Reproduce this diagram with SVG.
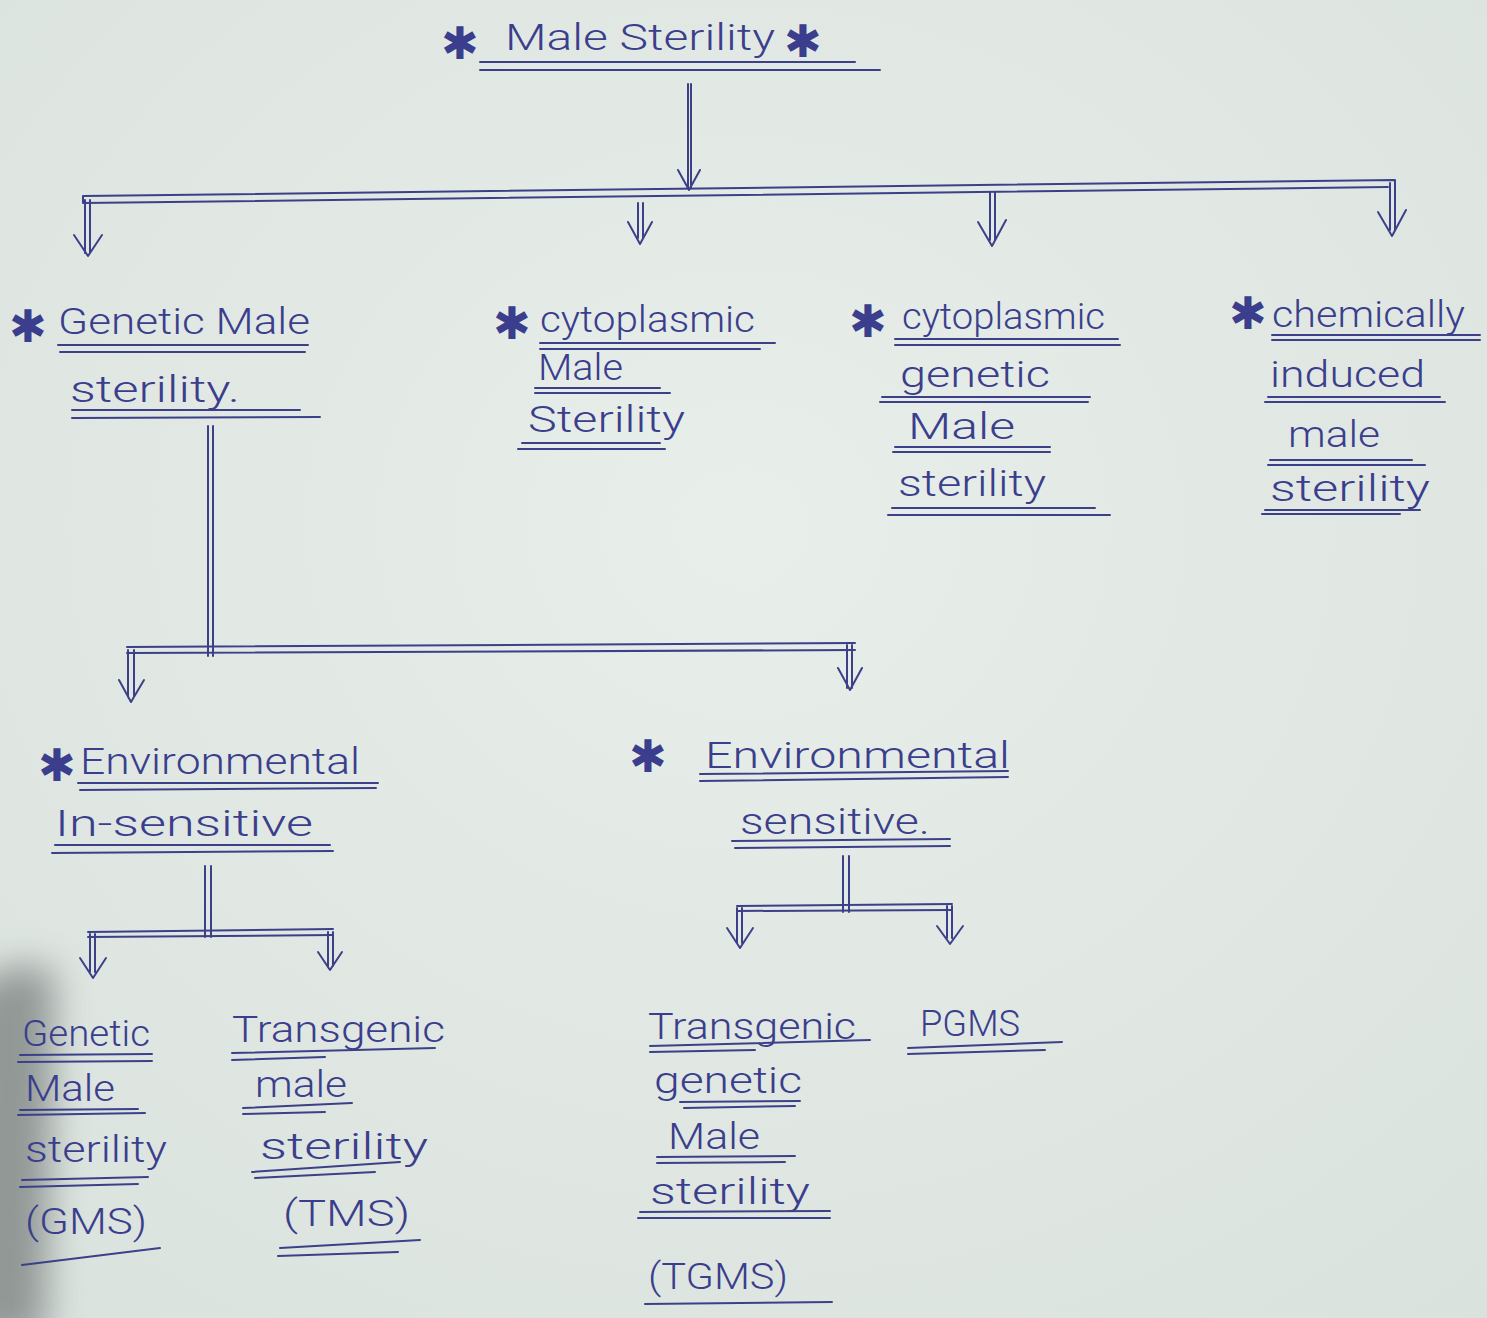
<svg xmlns="http://www.w3.org/2000/svg" width="1487" height="1318" viewBox="0 0 1487 1318">
<defs>
<style>
.ink{stroke:#3c4088;stroke-width:2;fill:none;stroke-linecap:round;stroke-linejoin:round}
.ul{stroke:#3c4088;stroke-width:2;fill:none;stroke-linecap:round}
.t{font-family:Roboto,"Liberation Sans",Arial,sans-serif;font-weight:300;font-size:37px;fill:#3a3e8c}
.s{font-family:"DejaVu Sans",sans-serif;font-size:45px;fill:#3a3e8c;text-anchor:middle}
</style>
<radialGradient id="paper" cx="0.5" cy="0.4" r="0.8">
<stop offset="0" stop-color="#e8eeea"/>
<stop offset="1" stop-color="#dae2dd"/>
</radialGradient>
<filter id="blur" x="-1" y="-1" width="3" height="3">
<feGaussianBlur stdDeviation="18"/>
</filter>
</defs>
<rect width="1487" height="1318" fill="url(#paper)"/>
<path d="M-40 1000 Q20 945 55 975 L45 1340 L-40 1340 Z" fill="#5f6565" opacity="0.6" filter="url(#blur)"/>

<g id="root">
<text class="s" x="460" y="59">✱</text>
<text class="t" x="505" y="50" textLength="270" lengthAdjust="spacingAndGlyphs">Male Sterility</text>
<text class="s" x="803" y="57">✱</text>
<path class="ul" d="M480 62 L855 62 M480 70 L880 70"/>
</g>

<g id="genetic-ms">
<text class="s" x="28" y="342">✱</text>
<text class="t" x="58" y="334" textLength="252" lengthAdjust="spacingAndGlyphs">Genetic Male</text>
<path class="ul" d="M58 345 L308 345 M60 352 L305 352"/>
<text class="t" x="70" y="402" textLength="170" lengthAdjust="spacingAndGlyphs">sterility.</text>
<path class="ul" d="M72 410 L300 410 M72 418 L320 417"/>
</g>

<g id="cytoplasmic-ms">
<text class="s" x="512" y="339">✱</text>
<text class="t" x="540" y="332" textLength="215" lengthAdjust="spacingAndGlyphs">cytoplasmic</text>
<path class="ul" d="M540 343 L775 343 M540 349 L760 349"/>
<text class="t" x="538" y="380" textLength="85" lengthAdjust="spacingAndGlyphs">Male</text>
<path class="ul" d="M535 388 L660 388 M535 393 L670 393"/>
<text class="t" x="528" y="432" textLength="157" lengthAdjust="spacingAndGlyphs">Sterility</text>
<path class="ul" d="M522 443 L660 443 M518 449 L665 449"/>
</g>

<g id="cytoplasmic-genetic-ms">
<text class="s" x="868" y="337">✱</text>
<text class="t" x="902" y="329" textLength="203" lengthAdjust="spacingAndGlyphs">cytoplasmic</text>
<path class="ul" d="M895 339 L1118 339 M895 345 L1120 345"/>
<text class="t" x="900" y="387" textLength="150" lengthAdjust="spacingAndGlyphs">genetic</text>
<path class="ul" d="M882 397 L1090 397 M880 402 L1088 402"/>
<text class="t" x="908" y="439" textLength="107" lengthAdjust="spacingAndGlyphs">Male</text>
<path class="ul" d="M895 447 L1050 447 M893 452 L1050 452"/>
<text class="t" x="898" y="496" textLength="148" lengthAdjust="spacingAndGlyphs">sterility</text>
<path class="ul" d="M892 508 L1095 508 M888 515 L1110 515"/>
</g>

<g id="chemically-induced-ms">
<text class="s" x="1248" y="329">✱</text>
<text class="t" x="1272" y="327" textLength="193" lengthAdjust="spacingAndGlyphs">chemically</text>
<path class="ul" d="M1272 335 L1480 335 M1272 340 L1480 340"/>
<text class="t" x="1270" y="387" textLength="155" lengthAdjust="spacingAndGlyphs">induced</text>
<path class="ul" d="M1268 397 L1440 397 M1265 402 L1445 402"/>
<text class="t" x="1288" y="447" textLength="92" lengthAdjust="spacingAndGlyphs">male</text>
<path class="ul" d="M1270 460 L1412 460 M1268 465 L1425 465"/>
<text class="t" x="1270" y="501" textLength="160" lengthAdjust="spacingAndGlyphs">sterility</text>
<path class="ul" d="M1265 510 L1420 510 M1262 514 L1400 514"/>
</g>

<g id="env-insensitive">
<text class="s" x="57" y="781">✱</text>
<text class="t" x="80" y="774" textLength="280" lengthAdjust="spacingAndGlyphs">Environmental</text>
<path class="ul" d="M78 783 L378 783 M80 790 L376 788"/>
<text class="t" x="55" y="836" textLength="258" lengthAdjust="spacingAndGlyphs">In-sensitive</text>
<path class="ul" d="M55 845 L330 845 M52 853 L333 851"/>
</g>

<g id="env-sensitive">
<text class="s" x="648" y="772">✱</text>
<text class="t" x="705" y="768" textLength="305" lengthAdjust="spacingAndGlyphs">Environmental</text>
<path class="ul" d="M700 774 L1008 771 M700 781 L1008 777"/>
<text class="t" x="740" y="834" textLength="190" lengthAdjust="spacingAndGlyphs">sensitive.</text>
<path class="ul" d="M732 841 L950 839 M735 848 L950 846"/>
</g>

<g id="gms">
<text class="t" x="22" y="1046" textLength="128" lengthAdjust="spacingAndGlyphs">Genetic</text>
<path class="ul" d="M20 1055 L152 1054 M18 1062 L152 1061"/>
<text class="t" x="25" y="1101" textLength="90" lengthAdjust="spacingAndGlyphs">Male</text>
<path class="ul" d="M20 1110 L138 1109 M18 1115 L145 1113"/>
<text class="t" x="25" y="1162" textLength="142" lengthAdjust="spacingAndGlyphs">sterility</text>
<path class="ul" d="M22 1180 L148 1177 M20 1187 L138 1184"/>
<text class="t" x="25" y="1234" textLength="122" lengthAdjust="spacingAndGlyphs">(GMS)</text>
<path class="ul" d="M22 1265 L160 1248"/>
</g>

<g id="tms">
<text class="t" x="232" y="1042" textLength="213" lengthAdjust="spacingAndGlyphs">Transgenic</text>
<path class="ul" d="M232 1053 L435 1048 M232 1060 L325 1057"/>
<text class="t" x="255" y="1097" textLength="92" lengthAdjust="spacingAndGlyphs">male</text>
<path class="ul" d="M243 1108 L352 1103 M243 1114 L325 1112"/>
<text class="t" x="260" y="1159" textLength="168" lengthAdjust="spacingAndGlyphs">sterility</text>
<path class="ul" d="M252 1172 L400 1162 M255 1178 L375 1172"/>
<text class="t" x="283" y="1226" textLength="127" lengthAdjust="spacingAndGlyphs">(TMS)</text>
<path class="ul" d="M280 1248 L420 1240 M278 1256 L398 1252"/>
</g>

<g id="tgms">
<text class="t" x="648" y="1039" textLength="208" lengthAdjust="spacingAndGlyphs">Transgenic</text>
<path class="ul" d="M650 1046 L870 1040 M650 1052 L755 1050"/>
<text class="t" x="654" y="1093" textLength="148" lengthAdjust="spacingAndGlyphs">genetic</text>
<path class="ul" d="M680 1102 L800 1101 M684 1108 L795 1106"/>
<text class="t" x="668" y="1149" textLength="92" lengthAdjust="spacingAndGlyphs">Male</text>
<path class="ul" d="M657 1157 L795 1156 M657 1163 L785 1162"/>
<text class="t" x="650" y="1204" textLength="160" lengthAdjust="spacingAndGlyphs">sterility</text>
<path class="ul" d="M640 1212 L830 1211 M638 1218 L830 1218"/>
<text class="t" x="648" y="1289" textLength="140" lengthAdjust="spacingAndGlyphs">(TGMS)</text>
<path class="ul" d="M645 1304 L832 1302"/>
</g>

<g id="pgms">
<text class="t" x="920" y="1036" textLength="100" lengthAdjust="spacingAndGlyphs">PGMS</text>
<path class="ul" d="M908 1048 L1062 1042 M908 1054 L1045 1050"/>
</g>

<g id="connectors">
<path class="ink" d="M688 84 L688 188 M691 84 L691 188 M678 170 L689 190 L700 170"/>
<path class="ink" d="M83 196 L1395 180 M83 203 L1388 187 M83 196 L83 203 M1395 180 L1395 187"/>
<path class="ink" d="M85 200 L85 253 M90 200 L90 253 M74 235 L88 256 L102 235"/>
<path class="ink" d="M638 203 L638 238 M643 203 L643 238 M628 222 L640 244 L652 222"/>
<path class="ink" d="M990 192 L990 240 M995 192 L995 240 M978 222 L992 246 L1006 220"/>
<path class="ink" d="M1390 183 L1390 230 M1395 183 L1395 230 M1378 212 L1392 236 L1406 210"/>
<path class="ink" d="M208 426 L208 656 M213 426 L213 656"/>
<path class="ink" d="M127 647 L855 643 M127 653 L855 650"/>
<path class="ink" d="M128 650 L128 697 M134 650 L134 697 M119 680 L131 702 L144 680"/>
<path class="ink" d="M847 645 L847 688 M852 645 L852 688 M838 668 L850 690 L862 668"/>
<path class="ink" d="M205 866 L205 937 M211 866 L211 937"/>
<path class="ink" d="M88 932 L333 929 M88 937 L333 935"/>
<path class="ink" d="M90 934 L90 972 M95 934 L95 972 M80 958 L93 978 L106 958"/>
<path class="ink" d="M328 932 L328 966 M333 932 L333 966 M318 952 L330 970 L342 952"/>
<path class="ink" d="M843 856 L843 912 M849 856 L849 912"/>
<path class="ink" d="M737 906 L952 904 M737 911 L952 910"/>
<path class="ink" d="M737 908 L737 943 M742 908 L742 943 M727 928 L740 948 L753 928"/>
<path class="ink" d="M947 906 L947 938 M952 906 L952 938 M937 926 L950 944 L963 926"/>
</g>
</svg>
